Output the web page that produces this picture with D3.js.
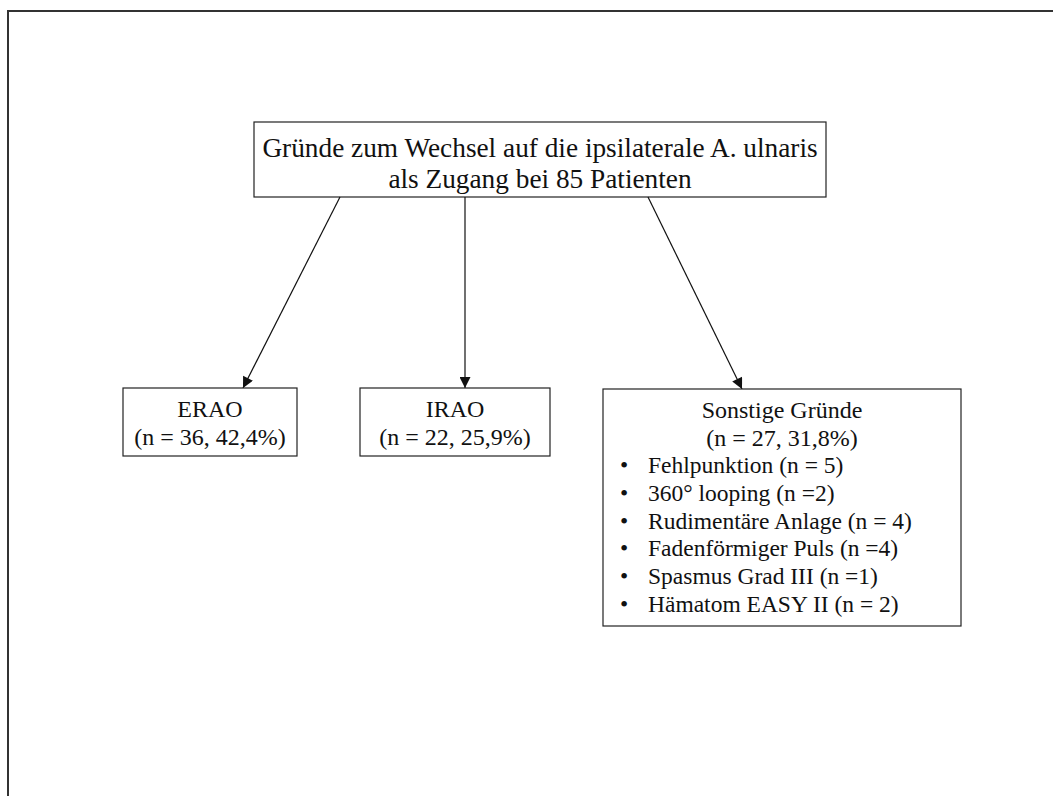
<!DOCTYPE html>
<html>
<head>
<meta charset="utf-8">
<script src="https://cdn.jsdelivr.net/npm/d3@7"></script>
<style>
  body { margin: 0; background: #fff; }
  svg text { font-family: "Liberation Serif", "Times New Roman", serif; fill: #111; }
</style>
</head>
<body>
<div id="chart"></div>
<script>
// Flowchart: reasons for switching to the ipsilateral ulnar artery

const titleLines = ["Gründe zum Wechsel auf die ipsilaterale A. ulnaris", "als Zugang bei 85 Patienten"];
const groups = ["ERAO", "IRAO", "Sonstige Gründe"];
const groupN = [36, 22, 27];
const groupPct = ["42,4%", "25,9%", "31,8%"];
const otherReasons = ["Fehlpunktion", "360° looping", "Rudimentäre Anlage", "Fadenförmiger Puls", "Spasmus Grad III", "Hämatom EASY II"];
const otherN = ["(n = 5)", "(n =2)", "(n = 4)", "(n =4)", "(n =1)", "(n = 2)"];

const W = 1053, H = 796;

var svg = d3.select("#chart").append("svg")
    .attr("width", W)
    .attr("height", H);

// arrow marker
svg.append("defs").append("marker")
    .attr("id", "arr")
    .attr("viewBox", "0 0 10 10")
    .attr("refX", 10).attr("refY", 5)
    .attr("markerWidth", 12).attr("markerHeight", 11)
    .attr("markerUnits", "userSpaceOnUse")
    .attr("orient", "auto")
    .append("path")
    .attr("d", "M0,0 L10,5 L0,10 z")
    .attr("fill", "#111");

// outer frame (top and left only)
svg.append("path")
    .attr("d", "M8," + H + " L8,11 L" + W + ",11")
    .attr("fill", "none")
    .attr("stroke", "#333")
    .attr("stroke-width", 2);

// top box
const topBox = {x: 254, y: 122, w: 572, h: 75};
svg.append("rect")
    .attr("x", topBox.x).attr("y", topBox.y)
    .attr("width", topBox.w).attr("height", topBox.h)
    .attr("fill", "#fff").attr("stroke", "#222").attr("stroke-width", 1.2);

svg.selectAll(".title")
    .data(titleLines)
    .enter().append("text")
    .attr("class", "title")
    .attr("x", topBox.x + topBox.w / 2)
    .attr("y", function(d, i) { return 157 + i * 31; })
    .attr("text-anchor", "middle")
    .attr("font-size", "27.3px")
    .text(function(d) { return d; });

// child boxes
const boxes = [
    {x: 123, y: 388, w: 174, h: 68, from: 340},
    {x: 360, y: 388, w: 190, h: 68, from: 465},
    {x: 603, y: 389, w: 358, h: 237, from: 648}
];
const arrowTo = [243, 465, 742];

groups.forEach(function(g, i) {
    var b = boxes[i];
    svg.append("line")
        .attr("x1", b.from).attr("y1", topBox.y + topBox.h)
        .attr("x2", arrowTo[i]).attr("y2", b.y)
        .attr("stroke", "#111").attr("stroke-width", 1.2)
        .attr("marker-end", "url(#arr)");

    svg.append("rect")
        .attr("x", b.x).attr("y", b.y)
        .attr("width", b.w).attr("height", b.h)
        .attr("fill", "#fff").attr("stroke", "#222").attr("stroke-width", 1.2);

    var cx = b.x + b.w / 2;
    svg.append("text")
        .attr("x", cx).attr("y", b.y + 29)
        .attr("text-anchor", "middle")
        .attr("font-size", "24px")
        .text(g);
    svg.append("text")
        .attr("x", cx).attr("y", b.y + 57)
        .attr("text-anchor", "middle")
        .attr("font-size", "24px")
        .text("(n = " + groupN[i] + ", " + groupPct[i] + ")");
});

// bullet list in the last box
var last = boxes[2];
var list = svg.append("g");
otherReasons.forEach(function(r, i) {
    var y = last.y + 84 + i * 27.8;
    list.append("text")
        .attr("x", last.x + 17).attr("y", y)
        .attr("font-size", "23.5px")
        .text("•");
    list.append("text")
        .attr("x", last.x + 45).attr("y", y)
        .attr("font-size", "23.5px")
        .text(r + " " + otherN[i]);
});
</script>
</body>
</html>
